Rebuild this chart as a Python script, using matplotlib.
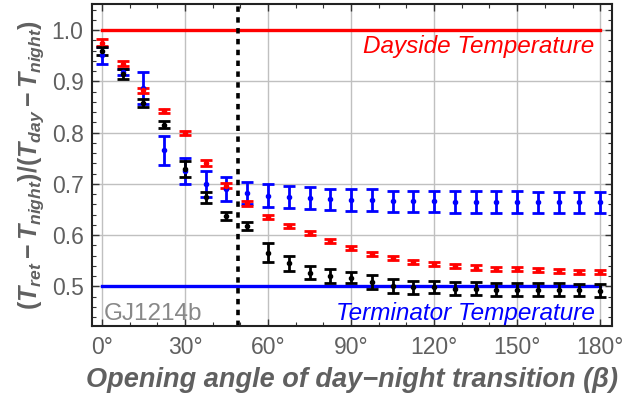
"""GJ1214b retrieved temperature vs opening angle of day-night transition."""

import numpy as np
from matplotlib import pyplot as plt
from matplotlib.ticker import MultipleLocator, FuncFormatter

plt.rcParams["font.family"] = ["Liberation Sans", "DejaVu Sans"]
plt.rcParams["mathtext.fontset"] = "custom"
plt.rcParams["mathtext.rm"] = "Liberation Sans:bold"
plt.rcParams["mathtext.it"] = "Liberation Sans:bold:italic"
plt.rcParams["mathtext.bf"] = "Liberation Sans:bold"

GRAY = "#606060"

beta = np.arange(0, 181, 7.5)
beta_split = 49

red_y = [0.976, 0.935, 0.883, 0.842, 0.799, 0.741, 0.697, 0.662, 0.636, 0.618,
         0.605, 0.589, 0.575, 0.563, 0.555, 0.547, 0.543, 0.540, 0.537, 0.534,
         0.534, 0.532, 0.530, 0.529, 0.529]
red_err = [0.006, 0.005, 0.005, 0.004, 0.004, 0.005, 0.005, 0.005, 0.004, 0.004,
           0.004, 0.004, 0.004, 0.004, 0.004, 0.004, 0.004, 0.004, 0.004, 0.004,
           0.004, 0.004, 0.004, 0.004, 0.004]

black_y = [0.960, 0.915, 0.858, 0.816, 0.729, 0.674, 0.638, 0.618, 0.566, 0.545,
           0.527, 0.521, 0.517, 0.509, 0.501, 0.498, 0.499, 0.496, 0.496, 0.494,
           0.494, 0.494, 0.494, 0.493, 0.492]
black_err = [0.008, 0.010, 0.008, 0.007, 0.016, 0.011, 0.008, 0.007, 0.018, 0.015,
             0.013, 0.014, 0.011, 0.014, 0.013, 0.012, 0.012, 0.012, 0.012, 0.012,
             0.012, 0.012, 0.012, 0.012, 0.012]

blue_y = [0.951, 0.918, 0.888, 0.766, 0.725, 0.700, 0.690, 0.682, 0.677, 0.675,
          0.673, 0.670, 0.669, 0.669, 0.666, 0.666, 0.666, 0.665, 0.665, 0.665,
          0.665, 0.664, 0.664, 0.664, 0.664]
blue_err = [0.016, 0.006, 0.031, 0.028, 0.025, 0.025, 0.023, 0.022, 0.022, 0.022,
            0.021, 0.021, 0.021, 0.021, 0.021, 0.021, 0.021, 0.021, 0.021, 0.021,
            0.021, 0.021, 0.021, 0.021, 0.021]

fig = plt.figure(figsize=(6.34, 4.11), dpi=100)
ax = fig.add_axes([0.145, 0.207, 0.82, 0.783])

ax.grid(True, which="major", color="#c0c0c0", lw=1.0)
ax.set_axisbelow(True)

ax.plot([0, 180], [1.0, 1.0], color="red", lw=2.4, zorder=2)
ax.plot([0, 180], [0.5, 0.5], color="blue", lw=2.4, zorder=2)
ax.axvline(beta_split, color="black", ls=(0, (1.5, 1.5)), lw=2.6, zorder=2)

for y, err, c in [(blue_y, blue_err, "blue"), (red_y, red_err, "red"),
                  (black_y, black_err, "black")]:
    ax.errorbar(beta, y, yerr=err, fmt="o", color=c, ms=3, elinewidth=2,
                capsize=4, capthick=2, zorder=3)

ax.text(178, 0.968, "Dayside Temperature", color="red", style="italic",
        fontsize=17.5, ha="right", va="center")
ax.text(178, 0.447, "Terminator Temperature", color="blue", style="italic",
        fontsize=17.5, ha="right", va="center")
ax.text(0.5, 0.447, "GJ1214b", color="#888888", fontsize=17.5, ha="left",
        va="center")

ax.set_xlim(-3.6, 184.2)
ax.set_ylim(0.423, 1.051)
ax.xaxis.set_major_locator(MultipleLocator(30))
ax.xaxis.set_minor_locator(MultipleLocator(10))
ax.yaxis.set_major_locator(MultipleLocator(0.1))
ax.yaxis.set_minor_locator(MultipleLocator(0.02))
ax.xaxis.set_major_formatter(FuncFormatter(lambda v, p: f"{v:.0f}°"))
ax.yaxis.set_major_formatter(FuncFormatter(lambda v, p: f"{v:.1f}"))
ax.tick_params(which="both", direction="in", top=True, right=True,
               colors="#333333", labelcolor=GRAY, labelsize=16.5)
ax.tick_params(which="major", length=5, width=1)
ax.tick_params(which="minor", length=3, width=0.8)
ax.tick_params(axis="x", pad=7)
ax.tick_params(axis="y", pad=6)
for s in ax.spines.values():
    s.set_linewidth(1.5)
    s.set_color("#222222")

ax.set_xlabel("Opening angle of day\u2212night transition (β)", fontsize=19.5,
              fontweight="bold", style="italic", color=GRAY, labelpad=6)
ax.set_ylabel(r"$(T_{ret}-T_{night})/(T_{day}-T_{night})$", fontsize=18,
              color=GRAY, labelpad=4)

fig.savefig("out.png", dpi=100)
